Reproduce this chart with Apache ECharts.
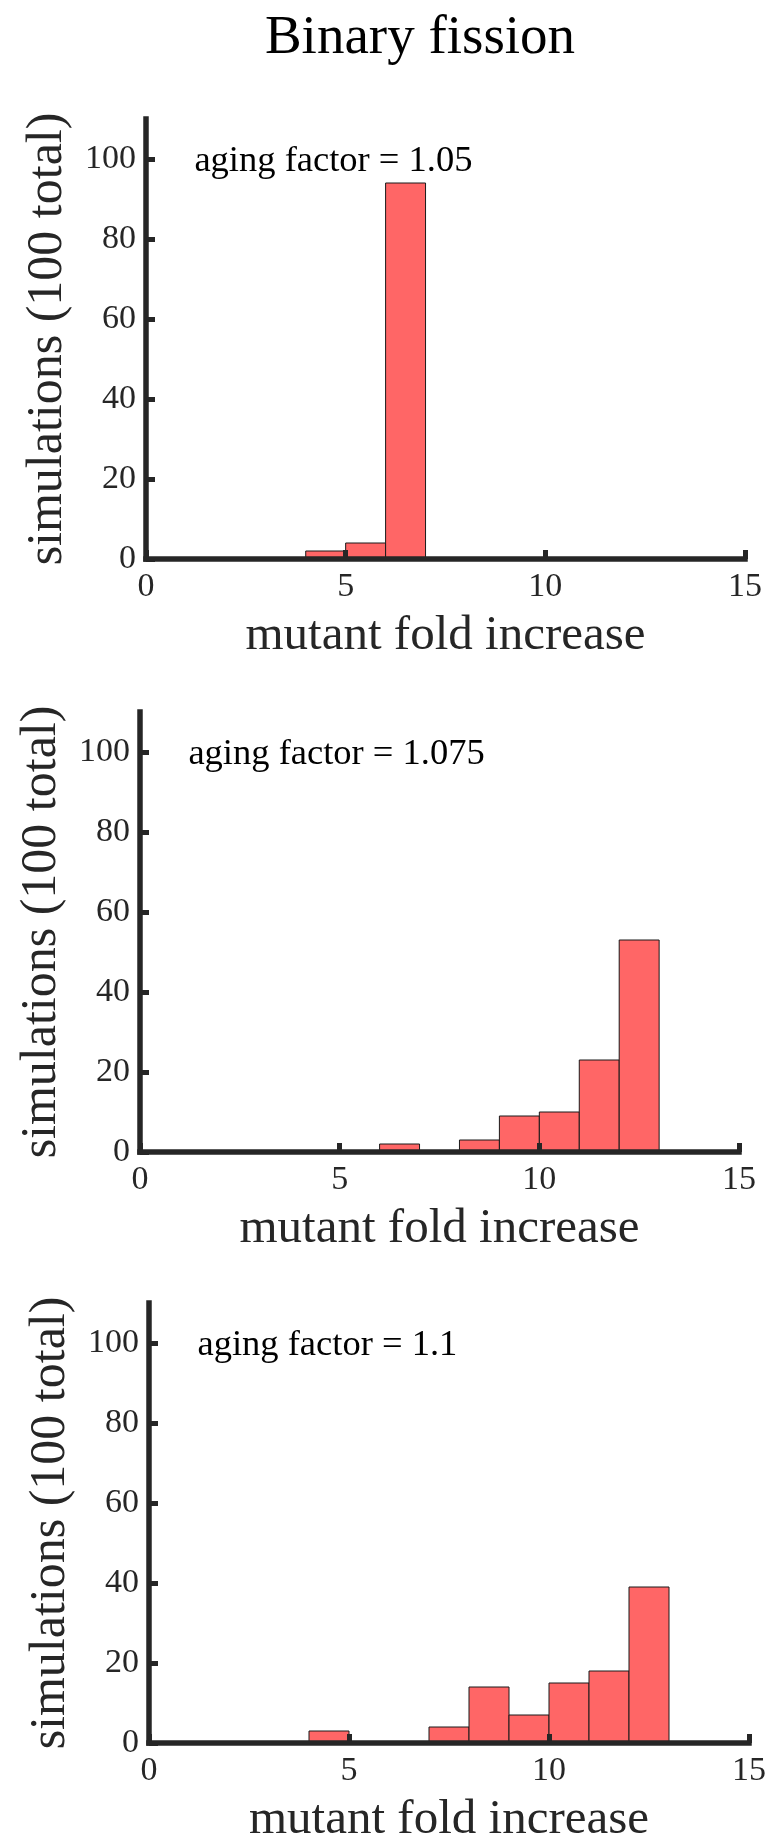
<!DOCTYPE html>
<html>
<head>
<meta charset="utf-8">
<script src="https://cdn.jsdelivr.net/npm/echarts@6/dist/echarts.min.js"></script>
<style>
html,body{margin:0;padding:0;background:#fff;}
#chart{width:775px;height:1848px;}
</style>
</head>
<body>
<div id="chart"></div>
<script>
// ---- data ----
const titleText = 'Binary fission';
const xAxisName = 'mutant fold increase';
const yAxisName = 'simulations (100 total)';
const xTicks = [0, 5, 10, 15];
const yTicks = [0, 20, 40, 60, 80, 100];
const binWidth = 1;
// panel 1: aging factor 1.05
const binStarts1 = [4, 5, 6];
const counts1 = [2, 4, 94];
// panel 2: aging factor 1.075
const binStarts2 = [6, 8, 9, 10, 11, 12];
const counts2 = [2, 3, 9, 10, 23, 53];
// panel 3: aging factor 1.1
const binStarts3 = [4, 7, 8, 9, 10, 11, 12];
const counts3 = [3, 4, 14, 7, 15, 18, 39];
const annotTexts = ['aging factor = 1.05', 'aging factor = 1.075', 'aging factor = 1.1'];
const annotX = [1.2, 1.2, 1.2];
const annotY = [99.5, 99.5, 99.5];

// ---- layout / style ----
const FONT = "'Liberation Serif', 'Times New Roman', serif";
const AX = '#262626';
const grids = [
  {left: 146, top: 119, width: 599, height: 440},
  {left: 140, top: 712, width: 599, height: 440},
  {left: 149, top: 1303, width: 600, height: 440}
];
const panels = [
  {starts: binStarts1, counts: counts1},
  {starts: binStarts2, counts: counts2},
  {starts: binStarts3, counts: counts3}
];

const chart = echarts.init(document.getElementById('chart'), null, {renderer: 'canvas'});

const xAxes = [], yAxes = [], series = [];
grids.forEach((g, i) => {
  xAxes.push({
    gridIndex: i, type: 'value', min: 0, max: 15, interval: 5, z: 5,
    name: xAxisName, nameLocation: 'middle', nameGap: 53,
    nameTextStyle: {fontFamily: FONT, fontSize: 49, color: AX},
    axisLine: {show: true, onZero: false, lineStyle: {color: AX, width: 5.5, cap: 'square'}},
    axisTick: {show: true, inside: true, length: 9, customValues: xTicks, lineStyle: {color: AX, width: 5}},
    axisLabel: {fontFamily: FONT, fontSize: 34, color: AX, margin: 11, customValues: xTicks},
    splitLine: {show: false}
  });
  yAxes.push({
    gridIndex: i, type: 'value', min: 0, max: 110, interval: 20, z: 5,
    name: yAxisName, nameLocation: 'middle', nameGap: 73,
    nameTextStyle: {fontFamily: FONT, fontSize: 50, color: AX},
    axisLine: {show: true, onZero: false, lineStyle: {color: AX, width: 5.5, cap: 'square'}},
    axisTick: {show: true, inside: true, length: 9, customValues: yTicks, lineStyle: {color: AX, width: 5}},
    axisLabel: {fontFamily: FONT, fontSize: 34, color: AX, margin: 10, customValues: yTicks},
    splitLine: {show: false}
  });
  const p = panels[i];
  series.push({
    type: 'custom', xAxisIndex: i, yAxisIndex: i, z: 2,
    data: p.starts.map((s, k) => [s, s + binWidth, p.counts[k]]),
    renderItem: function (params, api) {
      const a = api.coord([api.value(0), api.value(2)]);
      const b = api.coord([api.value(1), 0]);
      return {
        type: 'rect',
        shape: {x: a[0], y: a[1], width: b[0] - a[0], height: b[1] - a[1]},
        style: {fill: '#FF6666', stroke: '#1a1a1a', lineWidth: 1}
      };
    },
    silent: true
  });
  series.push({
    type: 'scatter', xAxisIndex: i, yAxisIndex: i, z: 6,
    data: [[annotX[i], annotY[i]]],
    symbol: 'circle', symbolSize: 1, itemStyle: {color: 'rgba(0,0,0,0)'}, silent: true,
    label: {show: true, position: 'right', distance: 0, formatter: annotTexts[i],
            fontFamily: FONT, fontSize: 36.5, color: '#000', opacity: 1}
  });
});

chart.setOption({
  animation: false,
  backgroundColor: '#ffffff',
  grid: grids.map(g => Object.assign({containLabel: false}, g)),
  xAxis: xAxes,
  yAxis: yAxes,
  series: series,
  graphic: [{
    type: 'text', x: 420, y: 11,
    style: {text: titleText, font: "55px " + FONT, fill: '#000', align: 'center', verticalAlign: 'top'}
  }]
});
</script>
</body>
</html>
